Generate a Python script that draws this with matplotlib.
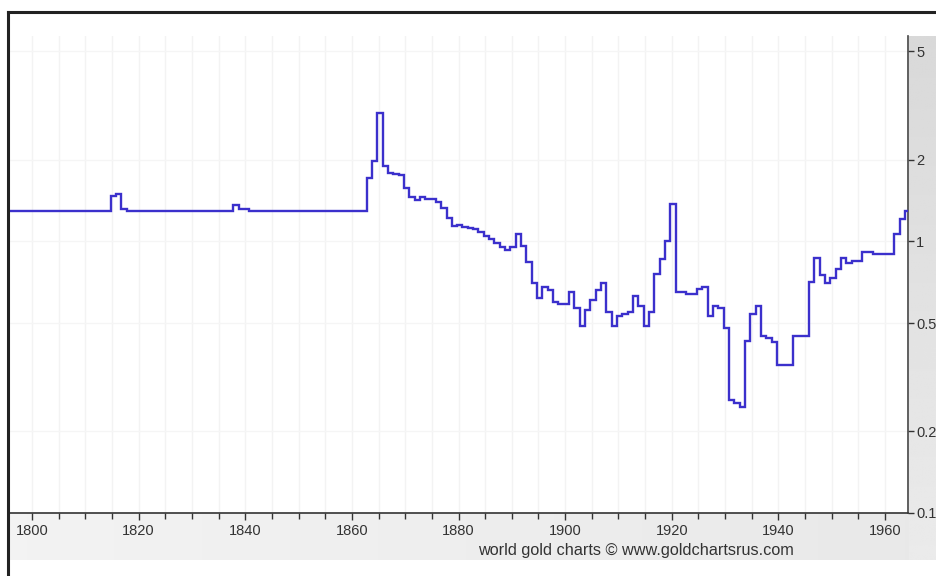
import matplotlib
matplotlib.use("Agg")
import matplotlib.pyplot as plt
import numpy as np
from matplotlib.lines import Line2D
from matplotlib.ticker import FixedLocator, FixedFormatter, MultipleLocator, NullLocator

# yearly step values (step starts at year)
years = list(range(1795, 1965))
values = (
    [1.29] * 20                                   # 1795-1814
    + [1.47, 1.50, 1.32]                          # 1815-1817
    + [1.29] * 20                                 # 1818-1837
    + [1.36, 1.31, 1.31]                          # 1838-1840
    + [1.29] * 22                                 # 1841-1862
    + [1.71, 1.97, 2.97, 1.90, 1.79, 1.77, 1.76,  # 1863-1869
       1.57, 1.46, 1.42, 1.46, 1.43, 1.43, 1.40,  # 1870-1876
       1.33, 1.22, 1.14, 1.15, 1.13, 1.12, 1.11,  # 1877-1883
       1.08, 1.05, 1.02, 0.99, 0.95, 0.93, 0.95,  # 1884-1890
       1.06, 0.96, 0.84, 0.70, 0.62, 0.68, 0.66,  # 1891-1897
       0.60, 0.59, 0.59, 0.65, 0.57, 0.49, 0.56,  # 1898-1904
       0.61, 0.66, 0.70, 0.55, 0.49, 0.53, 0.54,  # 1905-1911
       0.55, 0.63, 0.58, 0.49, 0.55, 0.76, 0.86,  # 1912-1918
       1.00, 1.37, 0.65, 0.65, 0.64, 0.64, 0.67,  # 1919-1925
       0.68, 0.53, 0.58, 0.57, 0.48, 0.26, 0.255, # 1926-1932
       0.245, 0.43, 0.54, 0.58, 0.45, 0.44, 0.425,# 1933-1939
       0.35, 0.35, 0.35, 0.45, 0.45, 0.45, 0.71,  # 1940-1946
       0.87, 0.75, 0.70, 0.73, 0.79, 0.87, 0.83,  # 1947-1953
       0.85, 0.85, 0.91, 0.91, 0.90, 0.90, 0.90,  # 1954-1960
       0.90, 1.06, 1.21, 1.29]                    # 1961-1964
)
year_end = 1965

x_major = [1800, 1820, 1840, 1860, 1880, 1900, 1920, 1940, 1960]
y_ticks = [0.1, 0.2, 0.5, 1, 2, 5]
y_labels = ["0.1", "0.2", "0.5", "1", "2", "5"]
credit = "world gold charts \u00a9 www.goldchartsrus.com"

W, H = 936, 576
fig = plt.figure(figsize=(W / 100, H / 100), dpi=100)
fig.patch.set_facecolor("white")

# grey panels around the plot (bottom strip and right strip)
bg = fig.add_axes([0, 0, 1, 1], zorder=-5)
bg.axis("off")
grad_b = np.linspace(0.95, 0.91, 256).reshape(1, -1)
bg.imshow(grad_b, extent=(9, 909, 560, 513), cmap="gray", vmin=0, vmax=1, aspect="auto")
grad_r = np.linspace(0.85, 0.92, 256).reshape(-1, 1)
bg.imshow(grad_r, extent=(909, 936, 560, 36), cmap="gray", vmin=0, vmax=1, aspect="auto")
bg.set_xlim(0, W)
bg.set_ylim(H, 0)

ax = fig.add_axes([9 / W, (H - 513) / H, (908 - 9) / W, (513 - 36) / H])
ax.set_facecolor("white")
ax.set_yscale("log")
# annual steps sit about a quarter year early on the source chart
edges = np.array(years + [year_end]) - 0.25
ax.stairs(values, edges, baseline=None, color="#3b30cc", linewidth=1.7, zorder=3)

ax.set_xlim(1795.7, 1964.3)
ax.set_ylim(0.1, 5.7)

ax.xaxis.set_major_locator(FixedLocator(x_major))
ax.xaxis.set_minor_locator(MultipleLocator(5))
ax.yaxis.set_major_locator(FixedLocator(y_ticks))
ax.yaxis.set_major_formatter(FixedFormatter(y_labels))
ax.yaxis.set_minor_locator(NullLocator())
ax.yaxis.tick_right()

ax.grid(True, which="both", axis="x", color="#f3f3f3", linewidth=1)
ax.grid(True, which="major", axis="y", color="#f5f5f5", linewidth=1)
ax.set_axisbelow(True)

for s in ["left", "top"]:
    ax.spines[s].set_visible(False)
ax.spines["bottom"].set_color("#333333")
ax.spines["right"].set_color("#444444")
ax.spines["bottom"].set_linewidth(1.2)
ax.spines["right"].set_linewidth(1.2)

ax.tick_params(axis="x", which="major", direction="out", length=5, width=1, color="#333333",
               labelsize=10.5, labelcolor="#333333", pad=3)
ax.tick_params(axis="x", which="minor", direction="out", length=4, width=1, color="#333333")
ax.tick_params(axis="y", which="major", direction="out", length=4, width=1, color="#333333",
               labelsize=10.5, labelcolor="#333333", pad=2)
for lab in ax.get_xticklabels() + ax.get_yticklabels():
    lab.set_fontfamily("Liberation Sans")

fig.text(636 / W, 1 - 551 / H, credit, ha="center", va="center", fontsize=11.7,
         color="#333333", family="Liberation Sans")

# dark frame lines at top and left
fig.add_artist(Line2D([8 / W, 1], [1 - 12 / H, 1 - 12 / H], color="#222222", linewidth=2.2))
fig.add_artist(Line2D([8 / W, 8 / W], [0, 1 - 12 / H], color="#222222", linewidth=2.2))

fig.savefig("out.png", dpi=100)
